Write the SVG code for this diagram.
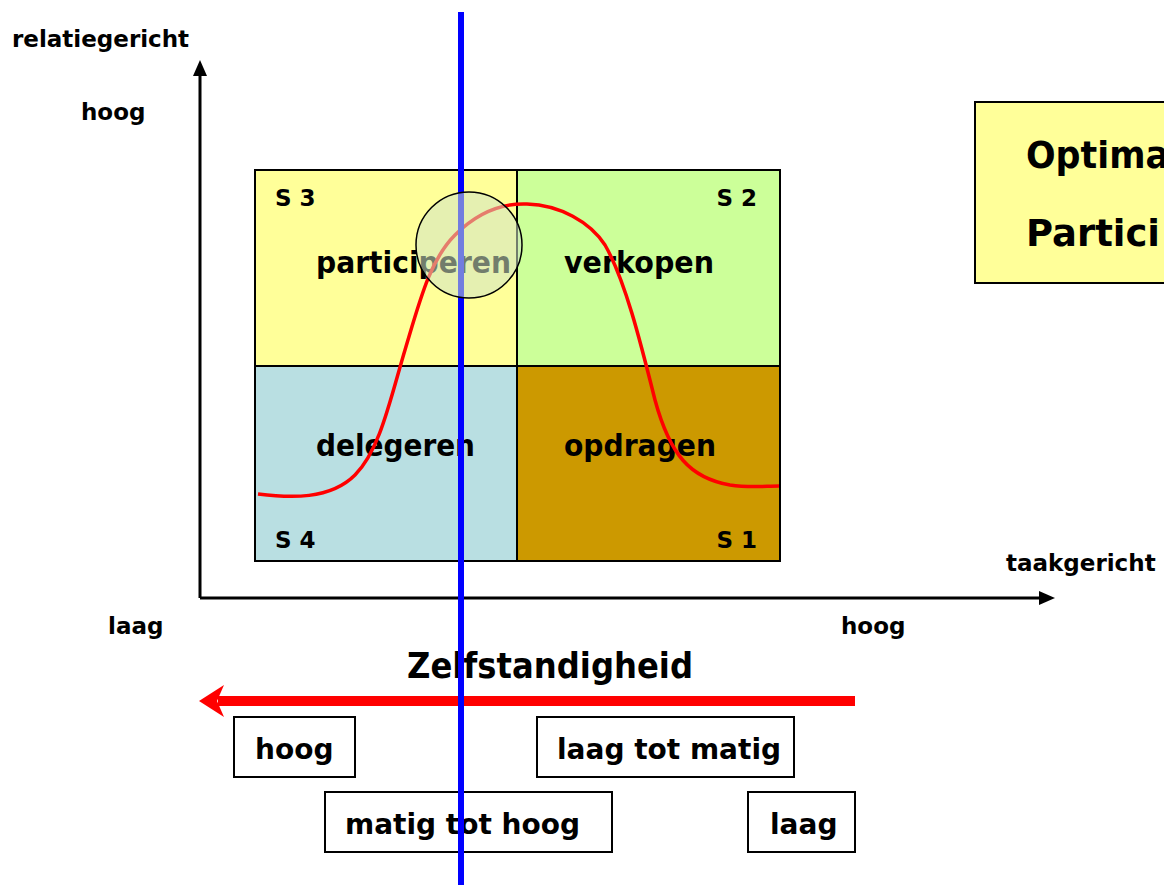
<svg xmlns="http://www.w3.org/2000/svg" width="1164" height="885" viewBox="0 0 1164 885">
<style>
text{font-family:"DejaVu Sans","Verdana",sans-serif;font-weight:bold;fill:#000}
.ax{font-size:23px}
.s{font-size:23px}
.q{font-size:31px}
.b{font-size:28px}
.box{stroke:#000;stroke-width:2}
.lbl{fill:#fff;stroke:#000;stroke-width:2}
</style>
<rect width="1164" height="885" fill="#fff"/>
<g id="quadrants">
<rect id="s3" class="box" x="255" y="170" width="262" height="196" fill="#FFFF99"/>
<rect id="s2" class="box" x="517" y="170" width="263" height="196" fill="#CCFF99"/>
<rect id="s4" class="box" x="255" y="366" width="262" height="195" fill="#B9DFE2"/>
<rect id="s1" class="box" x="517" y="366" width="263" height="195" fill="#CC9900"/>
<text class="s" x="275" y="206">S 3</text>
<text class="s" x="757" y="206" text-anchor="end">S 2</text>
<text class="s" x="275" y="548">S 4</text>
<text class="s" x="757" y="548" text-anchor="end">S 1</text>
<text class="q" x="316" y="273" textLength="195" lengthAdjust="spacingAndGlyphs">participeren</text>
<text class="q" x="564" y="273" textLength="150" lengthAdjust="spacingAndGlyphs">verkopen</text>
<text class="q" x="316" y="456" textLength="159" lengthAdjust="spacingAndGlyphs">delegeren</text>
<text class="q" x="564" y="456" textLength="152" lengthAdjust="spacingAndGlyphs">opdragen</text>
</g>
<g id="axes">
<line x1="200" y1="598" x2="200" y2="74" stroke="#000" stroke-width="3"/>
<polygon points="200,60 193,76 207,76" fill="#000"/>
<line x1="200" y1="598" x2="1041" y2="598" stroke="#000" stroke-width="3"/>
<polygon points="1055,598 1039,591 1039,605" fill="#000"/>
<text class="ax" x="12" y="47">relatiegericht</text>
<text class="ax" x="81" y="120">hoog</text>
<text class="ax" x="1006" y="571">taakgericht</text>
<text class="ax" x="108" y="634">laag</text>
<text class="ax" x="841" y="634">hoog</text>
</g>
<g id="curve">
<path d="M 258 494 C 290 498, 330 500, 355 475 C 380 450, 390 400, 405 350 C 420 300, 430 260, 455 235 C 475 215, 500 203, 527 204 C 560 205, 590 222, 605 245 C 625 280, 640 340, 655 400 C 670 455, 690 478, 730 485 C 750 488, 765 486, 779 486" fill="none" stroke="#FF0000" stroke-width="3.5"/>
</g>
<g id="optimal">
<rect x="975" y="102" width="200" height="181" fill="#FFFF99" stroke="#000" stroke-width="2"/>
<text x="1026" y="168" style="font-size:38px" textLength="143" lengthAdjust="spacingAndGlyphs">Optima</text>
<text x="1026" y="246" style="font-size:38px" textLength="134" lengthAdjust="spacingAndGlyphs">Partici</text>
</g>
<g id="zelfstandigheid">
<text x="407" y="678" style="font-size:35px" textLength="286" lengthAdjust="spacingAndGlyphs">Zelfstandigheid</text>
<line x1="855" y1="701" x2="218" y2="701" stroke="#FF0000" stroke-width="10"/>
<polygon points="199,701 224,685 217,701 224,717" fill="#FF0000"/>
</g>
<g id="label-hoog">
<rect class="lbl" x="234" y="717" width="121" height="60"/>
<text class="b" x="255" y="759">hoog</text>
</g>
<g id="label-laag-tot-matig">
<rect class="lbl" x="537" y="717" width="257" height="60"/>
<text class="b" x="557" y="759">laag tot matig</text>
</g>
<g id="label-matig-tot-hoog">
<rect class="lbl" x="325" y="792" width="287" height="60"/>
<text class="b" x="345" y="834">matig tot hoog</text>
</g>
<g id="label-laag">
<rect class="lbl" x="748" y="792" width="107" height="60"/>
<text class="b" x="770" y="834">laag</text>
</g>
<g id="blue-line">
<line x1="461" y1="12" x2="461" y2="885" stroke="#0000FF" stroke-width="6"/>
</g>
<g id="highlight">
<circle cx="469" cy="245" r="53" fill="#D0E4C4" fill-opacity="0.55" stroke="#000" stroke-width="1.5"/>
</g>
</svg>
